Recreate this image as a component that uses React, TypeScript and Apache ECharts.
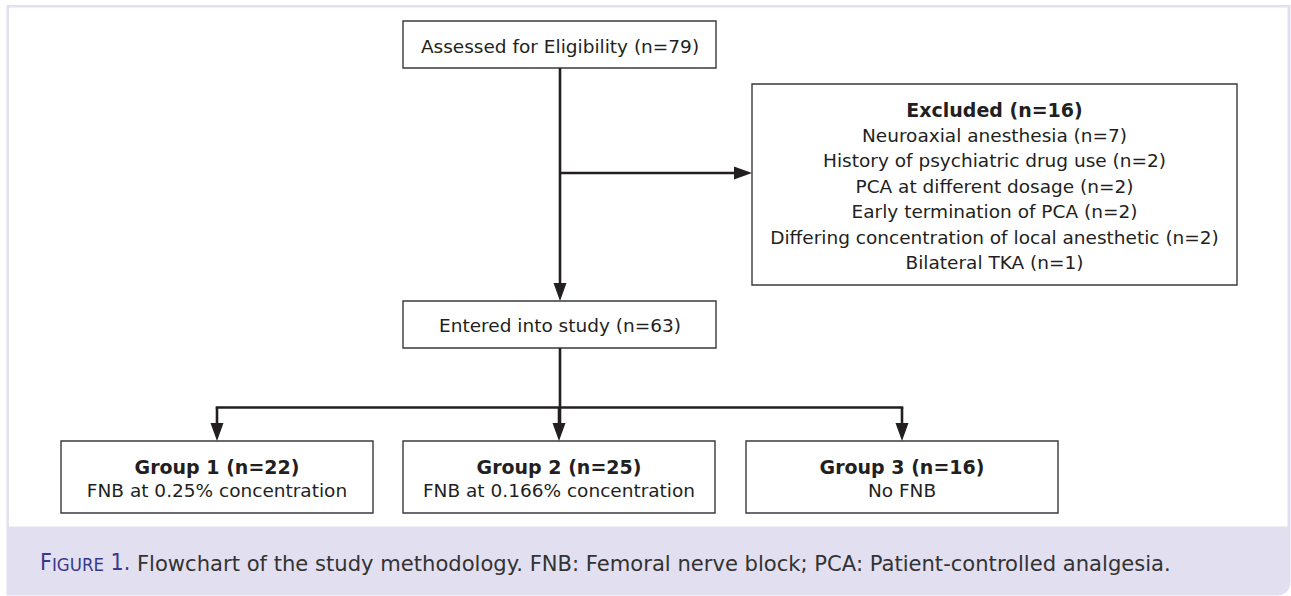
import React, { useEffect, useRef } from "react";
import * as echarts from "echarts";

// ---- data ----
const stageLabels = ["Assessed for Eligibility", "Entered into study"];
const stageCounts = [79, 63];
const exclusionTitle = "Excluded";
const exclusionReasons = [
  "Neuroaxial anesthesia",
  "History of psychiatric drug use",
  "PCA at different dosage",
  "Early termination of PCA",
  "Differing concentration of local anesthetic",
  "Bilateral TKA",
];
const exclusionCounts = [7, 2, 2, 2, 2, 1];
const groupNames = ["Group 1", "Group 2", "Group 3"];
const groupCounts = [22, 25, 16];
const groupTreatments = ["FNB at 0.25% concentration", "FNB at 0.166% concentration", "No FNB"];
const captionLabel = ["F", "IGURE", " 1."];
const captionText =
  "Flowchart of the study methodology. FNB: Femoral nerve block; PCA: Patient-controlled analgesia.";

const FONT = "'DejaVu Sans', Verdana, sans-serif";
const NARROW = "'Liberation Sans Narrow', 'DejaVu Sans Condensed', sans-serif";
const TXT = "#231f20";
const BOX_STROKE = "#3a3a3a";
const LINE = "#231f20";
const LW = 2.6;
const FS = 18.5;
const FSB = 19;

function box(x: number, y: number, w: number, h: number) {
  return {
    type: "rect",
    shape: { x, y, width: w, height: h },
    style: { fill: "#ffffff", stroke: BOX_STROKE, lineWidth: 1.4 },
  };
}

function text(t: string, x: number, y: number, size: number, bold = false) {
  return {
    type: "text",
    x,
    y,
    style: {
      text: t,
      fontFamily: FONT,
      fontSize: size,
      fontWeight: bold ? "bold" : "normal",
      fill: TXT,
      align: "center",
      verticalAlign: "middle",
    },
  };
}

function line(x1: number, y1: number, x2: number, y2: number) {
  return {
    type: "line",
    shape: { x1, y1, x2, y2 },
    style: { stroke: LINE, lineWidth: LW },
  };
}

function arrowDown(x: number, yTip: number) {
  return {
    type: "polygon",
    shape: { points: [[x - 6.5, yTip - 18], [x + 6.5, yTip - 18], [x, yTip]] },
    style: { fill: LINE },
  };
}

function arrowRight(xTip: number, y: number) {
  return {
    type: "polygon",
    shape: { points: [[xTip - 18, y - 6.5], [xTip - 18, y + 6.5], [xTip, y]] },
    style: { fill: LINE },
  };
}

export default function App() {
  const ref = useRef<HTMLDivElement>(null);
  useEffect(() => {
    if (!ref.current) return;
    const chart = echarts.init(ref.current, undefined, { renderer: "svg" });
    const els: any[] = [];

    // frame
    els.push({
      type: "rect",
      shape: { x: 6.5, y: 5, width: 1284, height: 590.5, r: [0, 0, 13, 0] },
      style: { fill: "#e2dff0" },
    });
    els.push({
      type: "rect",
      shape: { x: 9, y: 7.5, width: 1278.5, height: 519 },
      style: { fill: "#ffffff" },
    });

    const cx = 560;
    // stage 1
    els.push(box(403, 21, 313, 47));
    els.push(text(`${stageLabels[0]} (n=${stageCounts[0]})`, cx, 46, FS));
    // vertical main
    els.push(line(cx, 68, cx, 285));
    els.push(arrowDown(cx, 301));
    // branch to excluded
    els.push(line(cx, 173, 735, 173));
    els.push(arrowRight(752, 173));

    // excluded box
    const exTotal = exclusionCounts.reduce((a, b) => a + b, 0);
    els.push(box(752, 84, 485, 201));
    const exCx = 994.5;
    els.push(text(`${exclusionTitle} (n=${exTotal})`, exCx, 109.5, FSB, true));
    exclusionReasons.forEach((r, i) => {
      els.push(text(`${r} (n=${exclusionCounts[i]})`, exCx, 135 + i * 25.5, FS));
    });

    // stage 2
    els.push(box(403, 301, 313, 47));
    els.push(text(`${stageLabels[1]} (n=${stageCounts[1]})`, cx, 325.5, FS));
    els.push(line(cx, 348, cx, 425));

    // groups
    const groupX = [61, 403, 746];
    const groupW = 312;
    const centers = groupX.map((x) => x + groupW / 2);
    els.push(line(centers[0] - LW / 2, 407.5, centers[2] + LW / 2, 407.5));
    groupNames.forEach((g, i) => {
      const c = centers[i];
      els.push(line(c, 407.5, c, 425));
      els.push(arrowDown(c, 441));
      els.push(box(groupX[i], 441, groupW, 72));
      els.push(text(`${g} (n=${groupCounts[i]})`, c, 466.5, FSB, true));
      els.push(text(groupTreatments[i], c, 490, FS));
    });

    // caption
    els.push({
      type: "text",
      x: 40,
      y: 562,
      style: {
        text: `{a|${captionLabel[0]}}{b|${captionLabel[1]}}{a|${captionLabel[2]}}{c| ${captionText}}`,
        verticalAlign: "middle",
        align: "left",
        rich: {
          a: { fontFamily: NARROW, fontSize: 23, fill: "#3a3889", verticalAlign: "bottom" },
          b: { fontFamily: NARROW, fontSize: 18.5, fill: "#3a3889", verticalAlign: "bottom" },
          c: { fontFamily: FONT, fontSize: 21.1, fill: "#333333", verticalAlign: "bottom" },
        },
      },
    });

    chart.setOption({ animation: false, graphic: { elements: els } });
    return () => chart.dispose();
  }, []);
  return (
    <div
      ref={ref}
      style={{ position: "fixed", left: 0, top: 0, width: 1291, height: 596, background: "#ffffff" }}
    />
  );
}
